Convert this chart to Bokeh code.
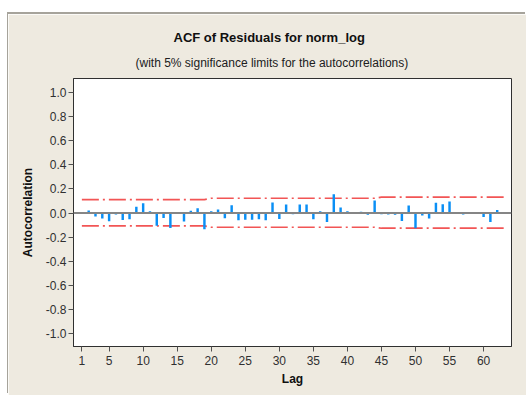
from bokeh.plotting import figure
from bokeh.models import (ColumnDataSource, FixedTicker, Span, Title, Range1d)
from bokeh.embed import file_html
from bokeh.resources import INLINE

# ---- data ----
lags = list(range(1, 64))
acf = [0.008, 0.022, -0.028, -0.045, -0.068, -0.012, -0.058, -0.052, 0.052, 0.082,
       0.014, -0.105, -0.042, -0.125, -0.004, -0.070, 0.018, 0.040, -0.135, 0.015,
       0.030, -0.043, 0.065, -0.060, -0.056, -0.056, -0.052, -0.060, 0.087, -0.050,
       0.070, -0.010, 0.070, 0.070, -0.052, 0.014, -0.075, 0.155, 0.045, 0.014,
       0.006, 0.011, -0.014, 0.105, -0.010, -0.012, -0.015, -0.066, 0.063, -0.127,
       -0.020, -0.045, 0.085, 0.073, 0.095, -0.006, -0.012, 0.008, 0.008, -0.033,
       -0.075, 0.025, 0.008]
limit_lags = [1, 19, 20, 44, 45, 63]
upper_limit = [0.112, 0.112, 0.123, 0.123, 0.132, 0.132]
lower_limit = [-0.107, -0.107, -0.118, -0.118, -0.126, -0.126]
x_ticks = [1, 5, 10, 15, 20, 25, 30, 35, 40, 45, 50, 55, 60]
y_ticks = [-1.0, -0.8, -0.6, -0.4, -0.2, 0.0, 0.2, 0.4, 0.6, 0.8, 1.0]
y_tick_labels = ["-1.0", "-0.8", "-0.6", "-0.4", "-0.2", "0.0", "0.2", "0.4", "0.6", "0.8", "1.0"]
title_text = "ACF of Residuals for norm_log"
subtitle_text = "(with 5% significance limits for the autocorrelations)"
x_label = "Lag"
y_label = "Autocorrelation"

BG = "#EEEAE0"
FONT = "Liberation Sans"

# canvas placed at page (8, 14) via CSS margins
p = figure(width=518, height=381, output_backend="svg", toolbar_location=None,
           x_range=Range1d(-0.23, 64.1), y_range=Range1d(-1.108, 1.117),
           min_border_left=65, min_border_right=15, min_border_top=64,
           min_border_bottom=49, background_fill_color="white",
           border_fill_color=BG, outline_line_color="#303030", outline_line_width=1)
p.styles = {"margin-left": "8px", "margin-top": "14px",
            "box-shadow": "-1px -2px 0 0 #A6A39B"}

# title / subtitle placed left-aligned with pixel offsets from frame's left edge
p.add_layout(Title(text=subtitle_text, align="left", text_font=FONT,
                   text_font_size="12px", text_font_style="normal",
                   text_color="#202020", standoff=18, offset=62), "above")
p.add_layout(Title(text=title_text, align="left", text_font=FONT,
                   text_font_size="13px", text_font_style="bold",
                   text_color="#101010", standoff=0, offset=100), "above")

p.grid.visible = False

# zero line
p.add_layout(Span(location=0, dimension="width", line_color="#858585", line_width=2))

# significance limits
p.line(limit_lags, upper_limit, line_color="#F25555", line_width=1.7, line_dash="17 4 2 4")
p.line(limit_lags, lower_limit, line_color="#F25555", line_width=1.7, line_dash="17 4 2 4")

# ACF bars
src = ColumnDataSource(dict(lag=lags, acf=acf))
p.vbar(x="lag", top="acf", bottom=0, width=0.36, source=src,
       fill_color="#0A8FF5", line_color=None)

# axes
for ax in (p.xaxis[0], p.yaxis[0]):
    ax.axis_line_color = "#303030"
    ax.major_tick_line_color = "#505050"
    ax.major_tick_out = 5
    ax.major_tick_in = 0
    ax.minor_tick_line_color = None
    ax.major_label_text_font = FONT
    ax.major_label_text_font_size = "12px"
    ax.major_label_text_color = "#303030"
    ax.axis_label_text_font = FONT
    ax.axis_label_text_font_size = "12px"
    ax.axis_label_text_font_style = "bold"
    ax.axis_label_text_color = "#101010"

p.xaxis.ticker = FixedTicker(ticks=x_ticks)
p.xaxis.axis_label = x_label
p.xaxis.major_label_standoff = 4
p.xaxis.axis_label_standoff = 4

p.yaxis.ticker = FixedTicker(ticks=y_ticks)
p.yaxis.major_label_overrides = {t: l for t, l in zip(y_ticks, y_tick_labels)}
p.yaxis.axis_label = y_label
p.yaxis.major_label_standoff = 2
p.yaxis.axis_label_standoff = 8

open("out.html", "w").write(file_html(p, INLINE))
